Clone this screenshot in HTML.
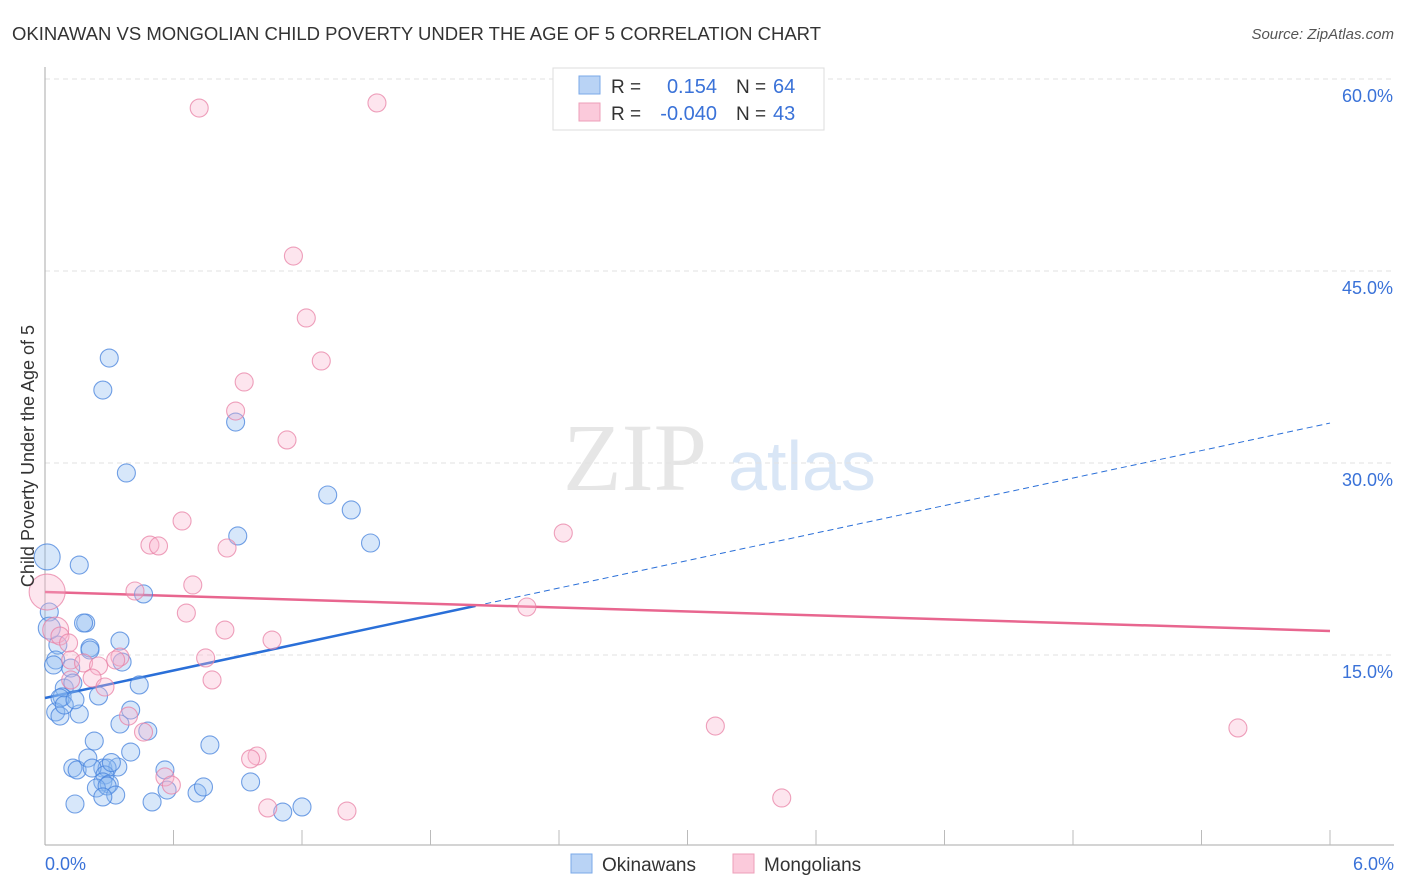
<!DOCTYPE html>
<html><head><meta charset="utf-8"><style>
body{margin:0;background:#fff;font-family:"Liberation Sans",sans-serif;}
svg{display:block}
</style></head><body>
<svg id="chart" width="1406" height="892">
<text x="12" y="40" font-size="18.5" fill="#333">OKINAWAN VS MONGOLIAN CHILD POVERTY UNDER THE AGE OF 5 CORRELATION CHART</text>
<text x="1394" y="39" font-size="15" fill="#555" font-style="italic" text-anchor="end">Source: ZipAtlas.com</text>
<text x="635" y="490" font-size="96" fill="#e6e6e6" font-family="Liberation Serif,serif" text-anchor="middle">ZIP</text>
<text x="802" y="490" font-size="70" fill="#d9e6f6" text-anchor="middle">atlas</text>
<g id="grid"></g><g id="axes"></g><g id="trend"></g><g id="pts"></g>
<g>
<rect x="553" y="68" width="271" height="62" fill="#fff" stroke="#ddd"/>
<rect x="579" y="76" width="21" height="18" fill="#b9d3f5" stroke="#7aa8e8"/>
<rect x="579" y="103" width="21" height="18" fill="#fbcadb" stroke="#ee9fb8"/>
<text x="611" y="93" font-size="19" fill="#333">R =</text>
<text x="717" y="93" font-size="20" fill="#3a72d8" text-anchor="end">0.154</text>
<text x="736" y="93" font-size="19" fill="#333">N =</text>
<text x="773" y="93" font-size="20" fill="#3a72d8">64</text>
<text x="611" y="120" font-size="19" fill="#333">R =</text>
<text x="717" y="120" font-size="20" fill="#3a72d8" text-anchor="end">-0.040</text>
<text x="736" y="120" font-size="19" fill="#333">N =</text>
<text x="773" y="120" font-size="20" fill="#3a72d8">43</text>
</g>
<g>
<rect x="571" y="854" width="21" height="19" fill="#b9d3f5" stroke="#7aa8e8"/>
<text x="602" y="871" font-size="19" fill="#333">Okinawans</text>
<rect x="733" y="854" width="21" height="19" fill="#fbcadb" stroke="#ee9fb8"/>
<text x="764" y="871" font-size="19" fill="#333">Mongolians</text>
</g>
<text transform="translate(34,456) rotate(-90)" font-size="18" fill="#333" text-anchor="middle">Child Poverty Under the Age of 5</text>
</svg>
<script>
const yTicks=[15,30,45,60];
const yTickLabels=["15.0%","30.0%","45.0%","60.0%"];
const xLabels=["0.0%","6.0%"];
const blueX=[0.01,0.16,0.30,0.27,0.38,0.89,1.32,1.43,1.52,0.90,0.46,0.02,0.19,0.18,0.06,0.21,0.21,0.35,0.05,0.12,0.36,0.04,0.25,0.44,0.09,0.13,0.08,0.05,0.16,0.07,0.40,0.35,0.48,0.23,0.40,0.56,0.27,0.77,0.13,0.15,0.20,0.34,0.29,0.22,0.28,0.27,0.30,0.24,0.29,0.33,0.27,0.14,0.50,0.57,0.71,0.74,0.96,1.11,1.20,0.07,0.09,0.02,0.14,0.31];
const blueY=[22.66,22.03,38.20,35.70,29.22,33.20,27.50,26.33,23.75,24.30,19.77,18.36,17.50,17.50,15.78,15.55,15.39,16.09,14.61,13.98,14.45,14.22,11.80,12.66,12.42,12.81,11.72,10.55,10.39,10.23,10.70,9.61,9.06,8.28,7.42,6.02,6.17,7.97,6.17,6.02,6.95,6.25,6.17,6.17,5.63,5.08,4.92,4.61,4.77,4.06,3.91,3.36,3.52,4.45,4.22,4.69,5.08,2.73,3.13,11.64,11.09,17.10,11.50,6.60];
const blueR=[13,9,9,9,9,9,9,9,9,9,9,9,9,9,9,9,9,9,9,9,9,9,9,9,9,9,9,9,9,9,9,9,9,9,9,9,9,9,9,9,9,9,9,9,9,9,9,9,9,9,9,9,9,9,9,9,9,9,9,9,9,11,9,9];
const pinkX=[0.72,1.55,1.16,1.22,1.29,0.93,0.89,1.13,0.64,0.49,0.53,0.85,2.42,0.42,0.69,0.66,2.25,0.84,1.06,0.01,0.05,0.07,0.11,0.12,0.35,0.33,0.18,0.25,0.22,0.12,0.28,0.78,0.75,0.39,0.46,0.99,0.96,3.13,5.57,0.56,0.59,3.44,1.04,1.41];
const pinkY=[57.73,58.13,46.17,41.33,37.97,36.33,34.06,31.80,25.47,23.59,23.52,23.36,24.53,20.00,20.47,18.28,18.75,16.95,16.17,19.92,16.95,16.48,15.94,14.61,14.84,14.61,14.38,14.14,13.20,13.05,12.50,13.05,14.77,10.23,8.98,7.11,6.88,9.45,9.30,5.47,4.84,3.83,3.05,2.81];
const pinkR=[9,9,9,9,9,9,9,9,9,9,9,9,9,9,9,9,9,9,9,18,13,9,9,9,9,9,9,9,9,9,9,9,9,9,9,9,9,9,9,9,9,9,9,9];
const blueTrend=[11.64,3.58,2.01];
const pinkTrend=[19.92,-0.507];
const NS="http://www.w3.org/2000/svg";
const X=v=>45+v/6*1285, Y=v=>847-v/15*192;
function mk(t,a,p){const e=document.createElementNS(NS,t);for(const k in a)e.setAttribute(k,a[k]);p.appendChild(e);return e;}
const grid=document.getElementById('grid'),axes=document.getElementById('axes'),trend=document.getElementById('trend'),pts=document.getElementById('pts');
yTicks.forEach((v,i)=>{
 const l=mk('line',{x1:45,x2:1394,y1:Y(v),y2:Y(v),stroke:'#e2e2e2','stroke-dasharray':'5,4'},grid);
 
 
 const t=mk('text',{x:1393,y:Y(v)+23,'font-size':18,fill:'#3a72d8','text-anchor':'end'},grid);t.textContent=yTickLabels[i];
 
 
});
const ya=mk('line',{x1:45,x2:45,y1:67,y2:845,stroke:'#aaa'},axes);


const xa=mk('line',{x1:45,x2:1394,y1:845,y2:845,stroke:'#aaa'},axes);


for(let i=1;i<=10;i++){const tk=mk('line',{x1:X(i*0.6),x2:X(i*0.6),y1:830,y2:845,stroke:'#bbb'},axes);
 
 }
[[0,'start',45],[1,'end',1394]].forEach(([i,a,x])=>{const t=mk('text',{x:x,y:870,'font-size':18,fill:'#3a72d8','text-anchor':a},axes);t.textContent=xLabels[i];
 
 });
const bl=mk('line',{x1:X(0),y1:Y(blueTrend[0]),x2:X(blueTrend[2]),y2:Y(blueTrend[0]+blueTrend[1]*blueTrend[2]),stroke:'#2a6fd8','stroke-width':2.5},trend);


const bd=mk('line',{x1:X(blueTrend[2]),y1:Y(blueTrend[0]+blueTrend[1]*blueTrend[2]),x2:X(6),y2:Y(blueTrend[0]+blueTrend[1]*6),stroke:'#2a6fd8','stroke-width':1,'stroke-dasharray':'6,4'},trend);


const pl=mk('line',{x1:X(0),y1:Y(pinkTrend[0]),x2:X(6),y2:Y(pinkTrend[0]+pinkTrend[1]*6),stroke:'#e8668f','stroke-width':2.5},trend);


blueX.forEach((x,i)=>{const c=mk('circle',{cx:X(x),cy:Y(blueY[i]),r:blueR[i],fill:'rgba(140,185,240,0.35)',stroke:'rgba(70,130,220,0.75)','stroke-width':1.1},pts);
 
 });
pinkX.forEach((x,i)=>{const c=mk('circle',{cx:X(x),cy:Y(pinkY[i]),r:pinkR[i],fill:'rgba(248,180,205,0.35)',stroke:'rgba(232,130,165,0.75)','stroke-width':1.1},pts);
 
 });
</script>
</body></html>
